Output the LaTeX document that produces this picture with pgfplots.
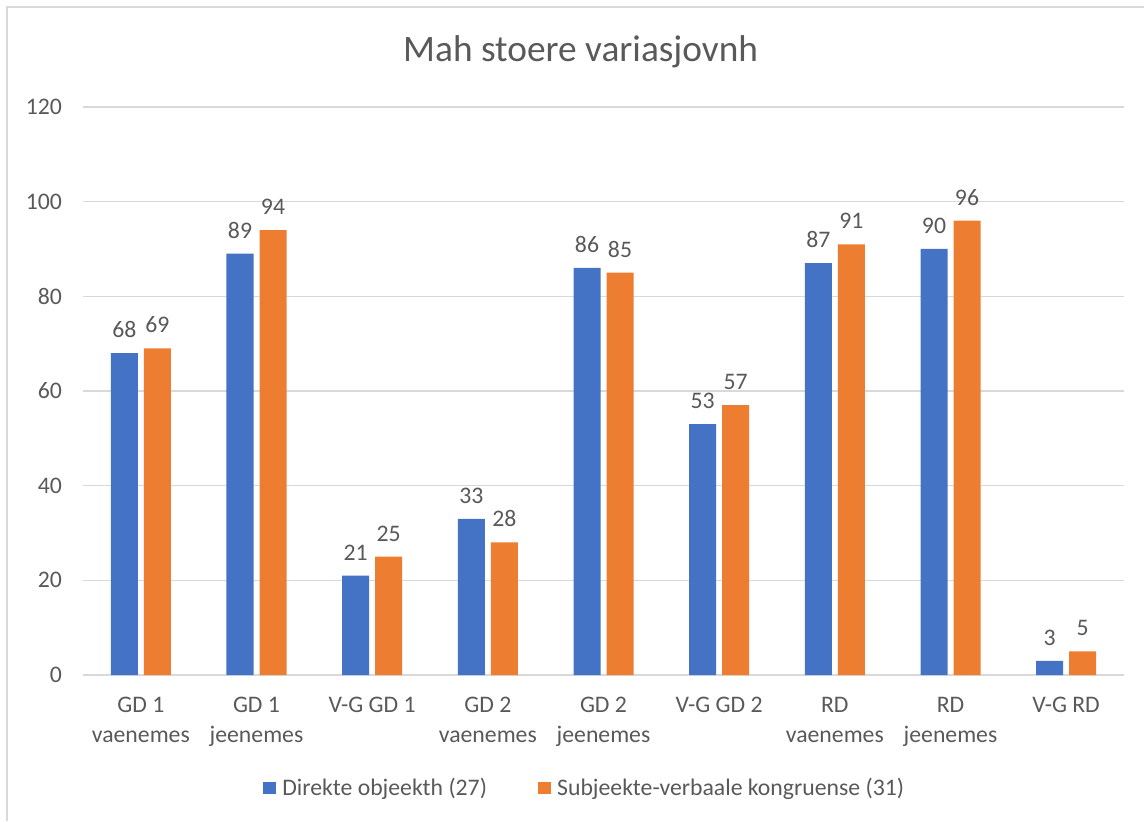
\documentclass[border=0pt]{standalone}
\usepackage{pgfplots}
\pgfplotsset{compat=1.18}
\usepackage{fontspec}
\setmainfont{Carlito}
\definecolor{xlblue}{HTML}{4472C4}
\definecolor{xlorange}{HTML}{ED7D31}
\definecolor{xltext}{HTML}{595959}
\definecolor{xlgrid}{HTML}{D9D9D9}
\begin{document}
\begin{tikzpicture}
\begin{axis}[
    scale only axis,
    width=780.75pt,
    height=426pt,
    ybar=4.5pt,
    bar width=20.25pt,
    ymin=0, ymax=120,
    ytick={0,20,...,120},
    xmin=-0.5, xmax=8.5,
    xtick={0,...,8},
    xticklabels={{GD 1\\vaenemes},{GD 1\\jeenemes},{V-G GD 1},{GD 2\\vaenemes},{GD 2\\jeenemes},{V-G GD 2},{RD\\vaenemes},{RD\\jeenemes},{V-G RD}},
    minor xtick={-0.5,0.5,...,8.5},
    axis lines*=left,
    y axis line style={draw=none},
    x axis line style={xlgrid, line width=1pt},
    x tick style={draw=none},
    y tick style={draw=none},
    minor x tick style={xlgrid, line width=1pt},
    tick align=outside,
    minor tick length=7pt,
    ymajorgrids,
    grid style={xlgrid, line width=1pt},
    /pgf/number format/assume math mode=true,
    tick label style={font=\fontsize{17.8}{22.5}\selectfont, text=xltext},
    xticklabel style={align=center, yshift=-9pt},
    yticklabel style={xshift=-8pt},
    nodes near coords,
    every node near coord/.append style={font=\fontsize{17.8}{20}\selectfont, text=xltext, yshift=8pt},
    title={Mah stoere variasjovnh},
    title style={at={(0.478,1)}, anchor=center, yshift=35.25pt, font=\fontsize{28}{32}\selectfont, text=xltext},
    legend style={at={(0.482,0)}, anchor=center, yshift=-84.75pt, draw=none, legend columns=2, font=\fontsize{17.8}{20}\selectfont, text=xltext, /tikz/every even column/.append style={column sep=36pt}, /tikz/every odd column/.append style={column sep=3pt}},
    legend image code/.code={\fill[#1] (0cm,-0.17cm) rectangle (0.34cm,0.17cm);},
]
\addplot[fill=xlblue, draw=none] coordinates {
    (0,68) (1,89) (2,21) (3,33) (4,86) (5,53) (6,87) (7,90) (8,3)
};
\addplot[fill=xlorange, draw=none] coordinates {
    (0,69) (1,94) (2,25) (3,28) (4,85) (5,57) (6,91) (7,96) (8,5)
};
\legend{Direkte objeekth (27),Subjeekte-verbaale kongruense (31)}
\coordinate (pa) at (rel axis cs:0,0);
\end{axis}
\draw[xlgrid, line width=1pt] (pa) ++(-57pt,-109.5pt) -- ++(0,610.5pt) -- ++(852.75pt,0);
\pgfresetboundingbox
\path[use as bounding box] (pa) ++(-62.25pt,-109.5pt) rectangle ++(858pt,615.75pt);
\end{tikzpicture}
\end{document}
